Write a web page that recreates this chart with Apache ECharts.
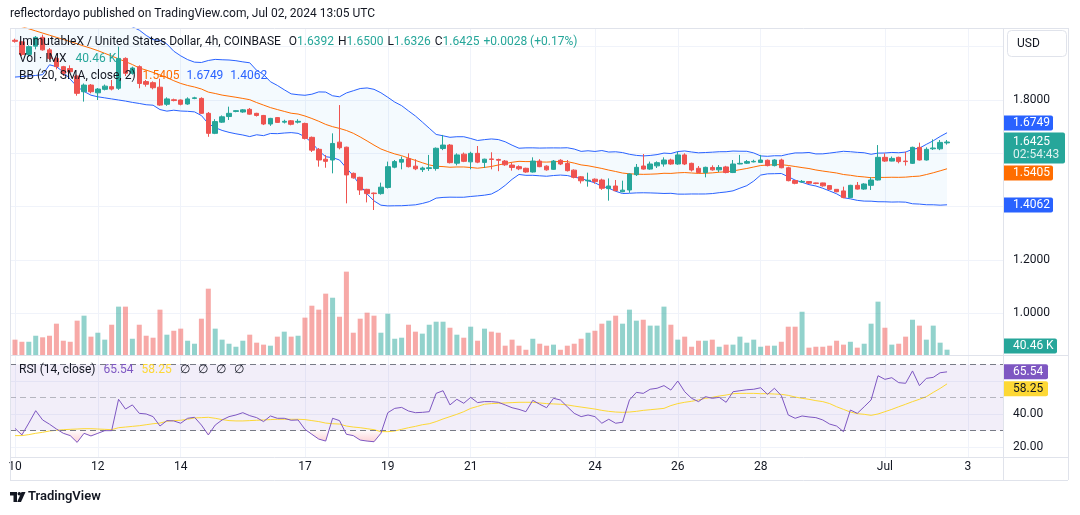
<!DOCTYPE html>
<html>
<head>
<meta charset="utf-8">
<script src="https://cdn.jsdelivr.net/npm/echarts@6/dist/echarts.min.js"></script>
<style>
  html, body { margin: 0; padding: 0; background: #fff; }
  #chart { width: 1080px; height: 515px; }
</style>
</head>
<body>
<div id="chart"></div>
<script>
// IMX/USD 4h candles (index 0 = Jun 10 00:00)
const tickIdx = [0, 12, 24, 42, 54, 66, 84, 96, 108, 126, 138];
const tickText = ['10', '12', '14', '17', '19', '21', '24', '26', '28', 'Jul', '3'];

const opens = [
  2.024, 2.018, 1.971, 2.002, 2.035, 1.988, 1.956, 1.925, 1.918, 1.890,
  1.831, 1.856, 1.827, 1.840, 1.850, 1.844, 1.956, 1.900, 1.925, 1.869,
  1.865, 1.848, 1.784, 1.801, 1.800, 1.785, 1.806, 1.806, 1.750, 1.675,
  1.717, 1.738, 1.757, 1.755, 1.765, 1.750, 1.742, 1.710, 1.734, 1.717,
  1.722, 1.717, 1.712, 1.660, 1.615, 1.578, 1.575, 1.642, 1.623, 1.525,
  1.510, 1.465, 1.451, 1.449, 1.472, 1.548, 1.567, 1.580, 1.552, 1.539,
  1.543, 1.543, 1.618, 1.631, 1.563, 1.597, 1.568, 1.600, 1.566, 1.579,
  1.577, 1.571, 1.556, 1.550, 1.544, 1.530, 1.571, 1.552, 1.540, 1.574,
  1.562, 1.537, 1.512, 1.497, 1.503, 1.500, 1.4675, 1.4775, 1.456, 1.4625,
  1.520, 1.5525, 1.541, 1.553, 1.560, 1.575, 1.560, 1.594, 1.5625, 1.544,
  1.528, 1.547, 1.538, 1.549, 1.528, 1.560, 1.563, 1.568, 1.566, 1.574,
  1.554, 1.575, 1.546, 1.498, 1.4925, 1.494, 1.489, 1.489, 1.479, 1.465,
  1.459, 1.434, 1.480, 1.466, 1.480, 1.500, 1.585, 1.571, 1.585, 1.571,
  1.5625, 1.6225, 1.575, 1.617, 1.617, 1.6392
];
const highs = [
  2.030, 2.020, 2.005, 2.040, 2.045, 1.995, 1.960, 1.928, 1.930, 1.895,
  1.862, 1.860, 1.845, 1.858, 1.875, 2.000, 1.960, 1.925, 1.930, 1.875,
  1.870, 1.880, 1.810, 1.805, 1.802, 1.810, 1.812, 1.810, 1.755, 1.728,
  1.742, 1.775, 1.762, 1.766, 1.770, 1.752, 1.744, 1.733, 1.736, 1.726,
  1.725, 1.728, 1.715, 1.663, 1.620, 1.594, 1.675, 1.781, 1.625, 1.528,
  1.512, 1.467, 1.453, 1.490, 1.569, 1.575, 1.588, 1.600, 1.578, 1.550,
  1.594, 1.622, 1.669, 1.635, 1.600, 1.603, 1.606, 1.6275, 1.580, 1.604,
  1.580, 1.575, 1.565, 1.555, 1.546, 1.585, 1.578, 1.555, 1.575, 1.578,
  1.575, 1.540, 1.515, 1.5275, 1.506, 1.505, 1.506, 1.500, 1.4975, 1.525,
  1.560, 1.5975, 1.569, 1.570, 1.585, 1.580, 1.606, 1.600, 1.565, 1.5525,
  1.550, 1.555, 1.556, 1.553, 1.575, 1.594, 1.575, 1.576, 1.594, 1.577,
  1.578, 1.580, 1.550, 1.500, 1.500, 1.496, 1.490, 1.490, 1.480, 1.466,
  1.475, 1.482, 1.4925, 1.488, 1.510, 1.631, 1.600, 1.588, 1.5875, 1.606,
  1.625, 1.640, 1.6225, 1.6525, 1.650, 1.6500
];
const lows = [
  2.015, 1.965, 1.962, 1.990, 1.985, 1.950, 1.915, 1.890, 1.900, 1.816,
  1.794, 1.825, 1.800, 1.836, 1.836, 1.838, 1.890, 1.895, 1.844, 1.850,
  1.840, 1.778, 1.778, 1.795, 1.780, 1.782, 1.803, 1.748, 1.662, 1.672,
  1.714, 1.725, 1.754, 1.752, 1.745, 1.738, 1.706, 1.703, 1.714, 1.712,
  1.705, 1.712, 1.652, 1.605, 1.550, 1.546, 1.525, 1.615, 1.4125, 1.505,
  1.444, 1.416, 1.3875, 1.445, 1.468, 1.544, 1.540, 1.547, 1.537, 1.530,
  1.534, 1.535, 1.612, 1.562, 1.555, 1.567, 1.540, 1.563, 1.545, 1.540,
  1.533, 1.553, 1.535, 1.537, 1.527, 1.528, 1.548, 1.535, 1.538, 1.556,
  1.532, 1.506, 1.487, 1.475, 1.486, 1.463, 1.4225, 1.458, 1.454, 1.452,
  1.515, 1.539, 1.538, 1.545, 1.550, 1.557, 1.557, 1.556, 1.532, 1.525,
  1.510, 1.535, 1.530, 1.525, 1.526, 1.559, 1.560, 1.566, 1.564, 1.551,
  1.551, 1.544, 1.495, 1.484, 1.490, 1.485, 1.484, 1.475, 1.463, 1.454,
  1.432, 1.432, 1.464, 1.463, 1.4625, 1.498, 1.568, 1.570, 1.5625, 1.554,
  1.560, 1.573, 1.573, 1.6125, 1.612, 1.6326
];
const closes = [
  2.020, 1.971, 2.000, 2.035, 1.988, 1.956, 1.925, 1.900, 1.906, 1.825,
  1.856, 1.831, 1.841, 1.852, 1.841, 1.956, 1.900, 1.920, 1.862, 1.859,
  1.846, 1.781, 1.804, 1.798, 1.784, 1.804, 1.808, 1.750, 1.675, 1.719,
  1.737, 1.750, 1.760, 1.763, 1.747, 1.742, 1.710, 1.731, 1.716, 1.720,
  1.709, 1.720, 1.656, 1.612, 1.575, 1.570, 1.637, 1.621, 1.519, 1.508,
  1.4625, 1.449, 1.449, 1.473, 1.550, 1.569, 1.577, 1.550, 1.542, 1.545,
  1.546, 1.619, 1.631, 1.565, 1.594, 1.570, 1.600, 1.567, 1.578, 1.577,
  1.574, 1.557, 1.547, 1.542, 1.530, 1.571, 1.550, 1.538, 1.571, 1.560,
  1.535, 1.510, 1.497, 1.499, 1.494, 1.469, 1.4775, 1.460, 1.462, 1.5225,
  1.5475, 1.541, 1.560, 1.565, 1.575, 1.560, 1.594, 1.560, 1.5375, 1.528,
  1.5475, 1.538, 1.547, 1.528, 1.560, 1.5625, 1.569, 1.570, 1.575, 1.554,
  1.575, 1.546, 1.4975, 1.4875, 1.495, 1.488, 1.487, 1.478, 1.465, 1.456,
  1.434, 1.480, 1.466, 1.485, 1.500, 1.585, 1.571, 1.581, 1.569, 1.569,
  1.6225, 1.575, 1.615, 1.620, 1.641, 1.6425
];
// volume, thousands of IMX
const volumes = [
  117, 101, 101, 147, 135, 147, 239, 109, 101, 262,
  300, 140, 170, 117, 231, 369, 369, 124, 231, 147,
  132, 346, 155, 185, 201, 109, 86, 277, 506, 201,
  117, 86, 63, 109, 155, 94, 79, 71, 140, 178,
  140, 147, 285, 376, 346, 468, 437, 292, 636, 170,
  277, 323, 300, 170, 315, 124, 132, 231, 178, 163,
  231, 254, 254, 208, 155, 132, 216, 109, 201, 178,
  170, 71, 117, 71, 40, 124, 86, 71, 79, 40,
  71, 86, 124, 170, 185, 239, 262, 300, 239, 346,
  262, 269, 224, 224, 369, 231, 117, 140, 63, 109,
  109, 117, 63, 79, 79, 140, 94, 117, 63, 71,
  71, 101, 216, 216, 330, 56, 63, 63, 71, 109,
  79, 101, 56, 86, 239, 407, 208, 79, 86, 140,
  269, 224, 117, 224, 94, 40.46
];
const rsi = [
  31.3, 27.3, 34.5, 42.0, 36.4, 33.8, 30.9, 28.3, 26.9, 22.8,
  28.3, 26.7, 28.3, 29.9, 29.9, 48.9, 43.0, 45.5, 40.4, 40.0,
  38.4, 32.7, 36.0, 35.8, 34.4, 37.4, 38.0, 33.3, 27.3, 33.3,
  36.4, 38.4, 39.4, 40.8, 39.0, 37.8, 35.4, 38.8, 37.4, 37.4,
  36.2, 36.4, 30.7, 27.7, 24.8, 23.6, 37.4, 36.0, 27.7, 26.9,
  24.2, 23.6, 23.2, 28.3, 40.8, 43.4, 44.0, 41.8, 40.8, 41.0,
  41.4, 52.5, 54.1, 45.5, 48.9, 46.5, 50.1, 46.9, 47.5, 47.5,
  47.1, 45.5, 43.8, 42.8, 41.4, 48.3, 45.9, 43.8, 49.5, 48.5,
  44.4, 40.4, 38.4, 39.4, 38.4, 34.4, 36.8, 34.4, 35.0, 48.5,
  53.1, 52.5, 55.0, 55.6, 57.2, 54.5, 60.0, 53.5, 49.5, 47.5,
  50.5, 49.5, 50.1, 47.1, 53.5, 54.1, 54.7, 55.0, 55.9, 51.9,
  55.6, 51.1, 39.4, 37.4, 38.8, 38.2, 37.8, 36.4, 33.9, 32.7,
  29.3, 42.4, 40.4, 44.4, 48.5, 63.2, 61.0, 62.0, 59.0, 58.6,
  66.1, 57.2, 61.6, 62.2, 65.0, 65.54
];
const rsiMa = [
  26.9, 26.9, 27.5, 28.3, 28.9, 29.7, 30.1, 30.5, 30.7, 30.9,
  31.1, 31.1, 30.9, 30.7, 30.5, 31.7, 32.1, 32.5, 32.9, 33.5,
  34.1, 34.5, 35.6, 36.0, 36.2, 36.8, 37.6, 37.8, 38.0, 37.4,
  36.6, 36.0, 35.8, 35.8, 36.0, 36.2, 36.4, 36.6, 36.8, 36.8,
  36.8, 36.8, 36.6, 36.0, 35.4, 34.5, 34.1, 33.9, 32.7, 32.1,
  31.7, 31.1, 30.5, 29.3, 29.3, 29.7, 30.7, 31.7, 32.5, 33.5,
  34.1, 35.4, 37.0, 38.4, 39.8, 41.4, 43.4, 44.6, 45.9, 46.3,
  46.5, 46.7, 46.9, 47.1, 47.1, 47.1, 46.7, 46.3, 46.1, 45.9,
  45.5, 44.8, 44.2, 43.6, 43.0, 42.2, 41.6, 41.2, 41.0, 41.2,
  41.6, 42.2, 42.6, 43.0, 43.4, 45.1, 46.3, 47.1, 47.7, 48.5,
  49.5, 50.1, 50.9, 51.5, 52.3, 52.5, 52.5, 52.5, 52.3, 52.3,
  52.1, 51.9, 51.3, 50.3, 49.5, 48.9, 48.1, 47.5, 46.3, 44.4,
  42.8, 41.2, 40.2, 39.8, 39.2, 40.0, 41.4, 42.8, 44.4, 45.9,
  47.5, 48.9, 50.5, 53.1, 55.5, 58.25
];
// Bollinger values for the first 19 bars (their window starts before the screen)
const bbMidHead = [2.080, 2.075, 2.067, 2.059, 2.051, 2.043, 2.035, 2.027, 2.019, 2.011,
  2.002, 1.994, 1.985, 1.975, 1.965, 1.954, 1.944, 1.933, 1.920];
const bbUpperHead = [2.274, 2.262, 2.244, 2.226, 2.207, 2.154, 2.145, 2.149, 2.160, 2.172,
  2.172, 2.170, 2.158, 2.142, 2.126, 2.095, 2.085, 2.074, 2.062];
const bbLowerHead = [1.886, 1.888, 1.890, 1.892, 1.895, 1.932, 1.925, 1.905, 1.878, 1.850,
  1.832, 1.818, 1.812, 1.808, 1.804, 1.800, 1.796, 1.791, 1.787];

const UP = '#26a69a', DOWN = '#ef5350';
const FONT = 'Roboto, "Noto Sans", sans-serif';
const GRIDLINE = '#f0f3fa';
const BORDER = '#e0e3eb';
const TXT = '#131722';

// BB (20, SMA, close, 2)
const bbLen = 20;
const bbMid = [], bbUpper = [], bbLower = [];
closes.forEach((c, i) => {
  if (i < bbLen - 1) {
    bbMid.push(bbMidHead[i]); bbUpper.push(bbUpperHead[i]); bbLower.push(bbLowerHead[i]);
    return;
  }
  const win = closes.slice(i - bbLen + 1, i + 1);
  const mean = win.reduce((a, b) => a + b, 0) / bbLen;
  const sd = Math.sqrt(win.reduce((a, b) => a + (b - mean) * (b - mean), 0) / bbLen);
  bbMid.push(mean); bbUpper.push(mean + 2 * sd); bbLower.push(mean - 2 * sd);
});

const pairs = arr => arr.map((v, i) => [i, v]);
const candleData = closes.map((c, i) => [i, opens[i], c, lows[i], highs[i]]);
const volData = volumes.map((v, i) => ({
  value: [i, v],
  itemStyle: { color: closes[i] >= opens[i] ? 'rgba(38,166,154,0.5)' : 'rgba(239,83,80,0.5)' }
}));

const X_MIN = -0.7242, X_MAX = 143.105;
const baseX = (gridIndex, showLabels) => ({
  type: 'value', gridIndex, min: X_MIN, max: X_MAX,
  axisLine: { show: false },
  axisTick: { show: false, customValues: tickIdx },
  axisLabel: {
    show: showLabels, customValues: tickIdx, margin: 4,
    color: TXT, fontSize: 12, fontFamily: FONT,
    formatter: v => tickText[tickIdx.indexOf(v)] || ''
  },
  splitLine: { show: gridIndex !== 1, lineStyle: { color: GRIDLINE } }
});

const chart = echarts.init(document.getElementById('chart'));

const option = {
  animation: false,
  backgroundColor: '#fff',
  grid: [
    { left: 10, right: 77, top: 28, bottom: 159.5, outerBoundsMode: 'none' },
    { left: 10, right: 77, top: 255, bottom: 160, outerBoundsMode: 'none' },
    { left: 10, right: 77, top: 355.5, bottom: 58, outerBoundsMode: 'none' }
  ],
  xAxis: [baseX(0, false), baseX(1, false), baseX(2, true)],
  yAxis: [
    {
      type: 'value', gridIndex: 0, position: 'right', min: 0.84189, max: 2.07, splitNumber: 6,
      axisLine: { show: false }, axisTick: { show: false },
      axisLabel: {
        margin: 10, color: TXT, fontSize: 12, fontFamily: FONT,
        showMinLabel: false, showMaxLabel: false,
        formatter: v => [1.0, 1.2, 1.8].some(t => Math.abs(t - v) < 1e-6) ? v.toFixed(4) : ''
      },
      splitLine: { show: true, showMinLine: false, showMaxLine: false, lineStyle: { color: GRIDLINE } }
    },
    { type: 'value', gridIndex: 1, min: 0, max: 763, show: false, splitLine: { show: false } },
    {
      type: 'value', gridIndex: 2, position: 'right', min: 13.94, max: 75.45, splitNumber: 3,
      axisLine: { show: false }, axisTick: { show: false },
      axisLabel: {
        margin: 10, color: TXT, fontSize: 12, fontFamily: FONT,
        showMinLabel: false, showMaxLabel: false,
        formatter: v => (Math.abs(v - 40) < 1e-6 || Math.abs(v - 20) < 1e-6) ? v.toFixed(2) : ''
      },
      splitLine: { show: true, showMinLine: false, showMaxLine: false, lineStyle: { color: GRIDLINE } }
    }
  ],
  series: [
    {
      // band fill between upper and lower BB
      type: 'custom', xAxisIndex: 0, yAxisIndex: 0, z: 1, silent: true,
      data: [[0, 1.5]],
      renderItem: (params, api) => {
        const top = bbUpper.map((v, i) => api.coord([i, v]));
        const bot = bbLower.map((v, i) => api.coord([i, v])).reverse();
        const cs = params.coordSys;
        return {
          type: 'group',
          clipPath: { type: 'rect', shape: { x: cs.x, y: cs.y, width: cs.width, height: cs.height } },
          children: [{ type: 'polygon', shape: { points: top.concat(bot) }, style: { fill: 'rgba(33,150,243,0.05)' } }]
        };
      }
    },
    {
      type: 'bar', xAxisIndex: 1, yAxisIndex: 1, barWidth: 5, z: 2, silent: true,
      data: volData
    },
    { type: 'line', name: 'BB upper', xAxisIndex: 0, yAxisIndex: 0, data: pairs(bbUpper), showSymbol: false, z: 3,
      lineStyle: { color: '#2962ff', width: 1 }, silent: true },
    { type: 'line', name: 'BB lower', xAxisIndex: 0, yAxisIndex: 0, data: pairs(bbLower), showSymbol: false, z: 3,
      lineStyle: { color: '#2962ff', width: 1 }, silent: true },
    { type: 'line', name: 'BB basis', xAxisIndex: 0, yAxisIndex: 0, data: pairs(bbMid), showSymbol: false, z: 3,
      lineStyle: { color: '#ff6d00', width: 1 }, silent: true },
    {
      type: 'candlestick', xAxisIndex: 0, yAxisIndex: 0, z: 5, barWidth: 5,
      encode: { x: 0, y: [1, 2, 3, 4] },
      data: candleData,
      itemStyle: { color: UP, color0: DOWN, borderColor: UP, borderColor0: DOWN, borderWidth: 1 }
    },
    {
      // oversold fill under the 30 line
      type: 'custom', xAxisIndex: 2, yAxisIndex: 2, z: 2, silent: true,
      data: [[0, 50]],
      renderItem: (params, api) => {
        const lvl = 30, polys = [];
        let cur = null;
        rsi.forEach((r, i) => {
          if (i > 0) {
            const p = rsi[i - 1];
            if ((p - lvl) * (r - lvl) < 0) {
              const cross = [i - 1 + (lvl - p) / (r - p), lvl];
              if (cur) { cur.push(cross); polys.push(cur); cur = null; } else cur = [cross];
            }
          }
          if (r < lvl) { if (!cur) cur = [[i, lvl]]; cur.push([i, r]); }
        });
        if (cur) { cur.push([rsi.length - 1, lvl]); polys.push(cur); }
        return {
          type: 'group',
          children: polys.map(pts => ({
            type: 'polygon',
            shape: { points: pts.map(p => api.coord(p)) },
            style: {
              fill: new echarts.graphic.LinearGradient(0, 0, 0, 1, [
                { offset: 0, color: 'rgba(242,54,69,0.02)' },
                { offset: 1, color: 'rgba(242,54,69,0.22)' }
              ])
            }
          }))
        };
      }
    },
    {
      type: 'line', name: 'RSI MA', xAxisIndex: 2, yAxisIndex: 2, data: pairs(rsiMa), showSymbol: false, z: 4,
      lineStyle: { color: '#fdd835', width: 1 }, silent: true
    },
    {
      type: 'line', name: 'RSI', xAxisIndex: 2, yAxisIndex: 2, data: pairs(rsi), showSymbol: false, z: 5,
      lineStyle: { color: '#7e57c2', width: 1 }, silent: true,
      markArea: {
        silent: true, z: 0,
        itemStyle: { color: 'rgba(126,87,194,0.1)' },
        data: [[{ yAxis: 30 }, { yAxis: 70 }]]
      },
      markLine: {
        silent: true, symbol: ['none', 'none'], label: { show: false },
        data: [
          { yAxis: 70, lineStyle: { color: '#787b86', type: [6, 4], width: 1 } },
          { yAxis: 50, lineStyle: { color: 'rgba(120,123,134,0.5)', type: [6, 4], width: 1 } },
          { yAxis: 30, lineStyle: { color: '#787b86', type: [6, 4], width: 1 } }
        ]
      }
    }
  ]
};

chart.setOption(option);

// ---- static decorations: frame, header, legends, logo ----
const line = (id, x1, y1, x2, y2) => ({
  type: 'line', id, z: 50, silent: true,
  shape: { x1, y1, x2, y2 }, style: { stroke: BORDER, lineWidth: 1 }
});
const text = (id, x, y, str, fill, size, weight) => ({
  type: 'text', id, x, y, z: 100, silent: true,
  style: { text: str, fill, font: `${weight || 'normal'} ${size || 12}px ${FONT}`, verticalAlign: 'middle' }
});
const rich = (id, x, y, str, styles) => ({
  type: 'text', id, x, y, z: 100, silent: true,
  style: { text: str, font: `12px ${FONT}`, verticalAlign: 'middle', rich: styles }
});
const tok = fill => ({ fill, fontSize: 12, fontFamily: FONT });

const staticGraphic = [
  line('b-top', 10, 28.5, 1068, 28.5),
  line('b-left', 10.5, 28, 10.5, 480),
  line('b-right', 1068.5, 28, 1068.5, 480),
  line('b-axis', 1003.5, 28, 1003.5, 480),
  line('b-pane', 10, 355.5, 1068, 355.5),
  line('b-time', 10, 457.5, 1068, 457.5),
  line('b-bottom', 10, 480.5, 1068, 480.5),
  text('header', 10, 14, 'reflectordayo published on TradingView.com, Jul 02, 2024 13:05 UTC', TXT, 12),
  rich('lg-main', 19, 42,
    '{d|ImmutableX / United States Dollar, 4h, COINBASE}{g8| }{d|O}{g|1.6392}{g4| }{d|H}{g|1.6500}{g4| }' +
    '{d|L}{g|1.6326}{g4| }{d|C}{g|1.6425}{g4| }{g|+0.0028 (+0.17%)}',
    { d: tok(TXT), g: tok(UP), g8: { width: 8 }, g4: { width: 4 } }),
  rich('lg-vol', 19, 59, '{d|Vol · IMX}{g8| }{g|40.46 K}', { d: tok(TXT), g: tok(UP), g8: { width: 9 } }),
  rich('lg-bb', 19, 76, '{d|BB (20, SMA, close, 2)}{g8| }{o|1.5405}{g8| }{b|1.6749}{g8| }{b|1.4062}',
    { d: tok(TXT), o: tok('#ff6d00'), b: tok('#2962ff'), g8: { width: 7 } }),
  rich('lg-rsi', 19, 370, '{d|RSI (14, close)}{g8| }{p|65.54}{g8| }{y|58.25}{g8| }{d|∅}{g8| }{d|∅}{g8| }{d|∅}{g8| }{d|∅}',
    { d: tok(TXT), p: tok('#7e57c2'), y: tok('#fdd835'), g8: { width: 8 } }),
  {
    type: 'rect', id: 'usd-box', z: 60, silent: true,
    shape: { x: 1007.5, y: 30.5, width: 59, height: 26, r: 4 },
    style: { fill: '#fff', stroke: BORDER, lineWidth: 1 }
  },
  text('usd', 1017, 44, 'USD', TXT, 12),
  {
    type: 'polygon', id: 'logo-a', z: 100, silent: true,
    shape: { points: [[10, 492], [17, 492], [17, 502], [13.5, 502], [13.5, 495.5], [10, 495.5]] },
    style: { fill: TXT }
  },
  { type: 'circle', id: 'logo-b', z: 100, silent: true, shape: { cx: 19.3, cy: 493.8, r: 1.8 }, style: { fill: TXT } },
  {
    type: 'polygon', id: 'logo-c', z: 100, silent: true,
    shape: { points: [[21.5, 492], [25.5, 492], [21, 502], [17.2, 502]] },
    style: { fill: TXT }
  },
  text('logo-t', 28, 497, 'TradingView', TXT, 13, 600)
];

// ---- right-hand value tags, placed through the axes and pushed apart like TradingView ----
function stackTags(tags, paneTop, paneBottom) {
  tags.forEach(t => { t.h = t.sub ? 31 : 15; t.top = t.y - (t.sub ? 9.5 : 7.5); });
  let a = tags.findIndex(t => t.anchor);
  if (a < 0) a = 0;
  tags[a].top = Math.min(Math.max(tags[a].top, paneTop + 1), paneBottom - 2 - tags[a].h);
  for (let k = a - 1; k >= 0; k--) {
    const lim = tags[k + 1].top - 2;
    if (tags[k].top + tags[k].h > lim) tags[k].top = lim - tags[k].h;
  }
  for (let k = a + 1; k < tags.length; k++) {
    const lim = tags[k - 1].top + tags[k - 1].h + 2;
    if (tags[k].top < lim) tags[k].top = lim;
  }
  return tags;
}
function tagGraphic(t, id) {
  const children = [
    { type: 'rect', shape: { x: 0, y: 0, width: t.w, height: t.h, r: [0, 2, 2, 0] }, style: { fill: t.color } },
    { type: 'text', x: 9, y: t.sub ? 9.5 : 7.5, style: { text: t.text, fill: t.fg || '#fff', font: `12px ${FONT}`, verticalAlign: 'middle' } }
  ];
  if (t.sub) {
    children.push({ type: 'text', x: 9, y: 22.5, style: { text: t.sub, fill: 'rgba(255,255,255,0.85)', font: `12px ${FONT}`, verticalAlign: 'middle' } });
  }
  return { type: 'group', id, x: 1004, y: t.top, z: 80, silent: true, children };
}

const yPx = (axis, v) => chart.convertToPixel({ yAxisIndex: axis }, v);
const priceTags = stackTags([
  { text: '1.6749', y: yPx(0, 1.6749), color: '#2962ff', w: 49 },
  { text: '1.6425', sub: '02:54:43', y: yPx(0, 1.6425), color: UP, w: 61, anchor: true },
  { text: '1.5405', y: yPx(0, 1.5405), color: '#ff6d00', w: 49 },
  { text: '1.4062', y: yPx(0, 1.4062), color: '#2962ff', w: 49 }
], 28, 355.5);
const volTags = stackTags([{ text: '40.46 K', y: yPx(1, 40.46), color: UP, w: 53, anchor: true }], 28, 355.5);
const rsiTags = stackTags([
  { text: '65.54', y: yPx(2, 65.54), color: '#7e57c2', w: 44, anchor: true },
  { text: '58.25', y: yPx(2, 58.25), color: '#fdd835', fg: TXT, w: 44 }
], 355.5, 457);

const tagList = priceTags.concat(volTags, rsiTags).map((t, i) => tagGraphic(t, 'tag' + i));
chart.setOption({ graphic: staticGraphic.concat(tagList) });
</script>
</body>
</html>
